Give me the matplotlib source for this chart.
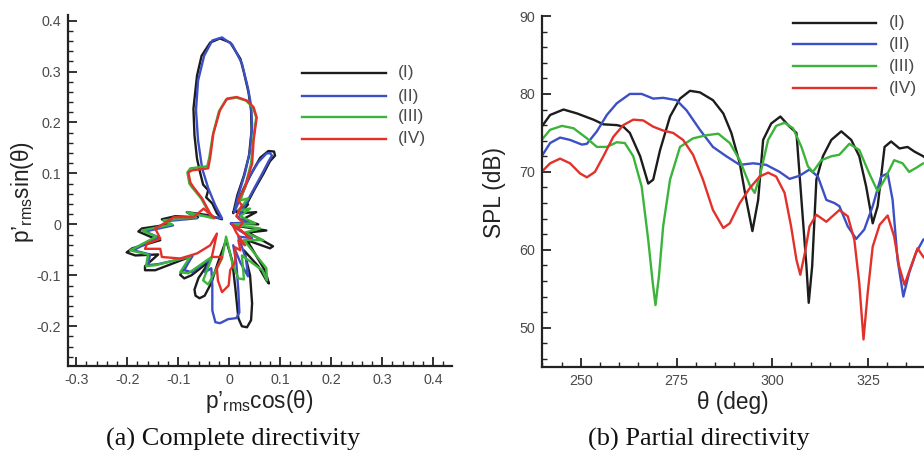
import matplotlib
matplotlib.use('Agg')
import matplotlib.pyplot as plt
from matplotlib.lines import Line2D
from matplotlib.ticker import MultipleLocator, FuncFormatter

plt.rcParams['font.family'] = ['Liberation Sans', 'DejaVu Sans']
plt.rcParams['axes.unicode_minus'] = False
plt.rcParams['mathtext.fontset'] = 'custom'
plt.rcParams['mathtext.rm'] = 'Liberation Sans'
plt.rcParams['mathtext.it'] = 'Liberation Sans:italic'

series_labels = ['(I)', '(II)', '(III)', '(IV)']
series_colors = ['#1c1c1c', '#3c4fc4', '#3cb43c', '#e2312a']

# ---------------- (a) complete directivity: p'rms*cos(theta), p'rms*sin(theta)
dir_x_I = [0.004, 0.057, 0.027, 0.053, 0.022, 0.037, 0.014, 0.035, 0.051, 0.067, 0.080, 0.090, 0.088, 0.077,
           0.061, 0.047, 0.031, 0.018, 0.008, 0.016, 0.029, 0.039, 0.044, 0.043, 0.038, 0.029, 0.022, 0.002,
           -0.018, -0.037, -0.054, -0.063, -0.070, -0.068, -0.063, -0.057, -0.051, -0.041, -0.045, -0.033,
           -0.024, -0.014, -0.041, -0.083, -0.061, -0.106, -0.132, -0.116, -0.171, -0.178, -0.155, -0.135,
           -0.190, -0.201, -0.184, -0.139, -0.165, -0.165, -0.145, -0.072, -0.088, -0.096, -0.088, -0.074,
           -0.037, -0.060, -0.068, -0.066, -0.058, -0.048, -0.035, -0.022, -0.006, 0.006, 0.012, 0.018, 0.025,
           0.035, 0.043, 0.045, 0.041, 0.029, 0.057, 0.073, 0.078, 0.071, 0.035, 0.080, 0.086, 0.037, 0.073,
           0.022, 0.004]
dir_y_I = [0.002, 0.000, 0.010, 0.024, 0.022, 0.039, 0.024, 0.041, 0.071, 0.099, 0.124, 0.135, 0.143, 0.144,
           0.131, 0.106, 0.076, 0.047, 0.022, 0.057, 0.096, 0.135, 0.184, 0.224, 0.259, 0.298, 0.325, 0.357,
           0.365, 0.357, 0.331, 0.292, 0.227, 0.175, 0.129, 0.102, 0.078, 0.067, 0.053, 0.041,
           0.022, 0.010, 0.018, 0.024, 0.014, 0.016, 0.010, 0.000, -0.008, -0.014, -0.024, -0.031,
           -0.047, -0.055, -0.061, -0.059, -0.082, -0.090, -0.090, -0.062, -0.085, -0.099, -0.106, -0.100,
           -0.071, -0.105, -0.128, -0.140, -0.145, -0.140, -0.115, -0.075, -0.031, -0.071, -0.124, -0.184,
           -0.200, -0.202, -0.188, -0.155, -0.100, -0.051, -0.082, -0.110, -0.116, -0.092, -0.031, -0.047,
           -0.043, -0.016, -0.012, -0.004, 0.002]

dir_x_II = [0.004, 0.041, 0.018, 0.033, 0.065, 0.078, 0.084, 0.080, 0.073, 0.057, 0.041, 0.022, 0.010,
            0.018, 0.031, 0.041, 0.045, 0.043, 0.037, 0.025, 0.006, -0.014, -0.033, -0.049, -0.061, -0.065,
            -0.061, -0.053, -0.041, -0.027, -0.014, -0.057, -0.080, -0.063, -0.127, -0.110, -0.165, -0.139,
            -0.188, -0.155, -0.159, -0.139, -0.073, -0.088, -0.073, -0.037, -0.047, -0.035, -0.033, -0.033,
            -0.027, -0.018, -0.002, 0.014, 0.020, 0.018, 0.014, 0.008, 0.022, 0.037, 0.033, 0.018, 0.045,
            0.014, 0.004]
dir_y_II = [0.002, 0.004, 0.012, 0.041, 0.100, 0.125, 0.135, 0.140, 0.139, 0.122, 0.096, 0.051, 0.024,
            0.057, 0.100, 0.145, 0.194, 0.233, 0.267, 0.316, 0.353, 0.367, 0.361, 0.331, 0.282, 0.224,
            0.165, 0.110, 0.071, 0.037, 0.012, 0.018, 0.022, 0.012, 0.006, -0.002, -0.014, -0.025,
            -0.051, -0.059, -0.080, -0.078, -0.063, -0.090, -0.094, -0.067, -0.094, -0.086, -0.120, -0.169,
            -0.192, -0.194, -0.186, -0.184, -0.173, -0.129, -0.075, -0.041, -0.075, -0.102, -0.067, -0.024, -0.027,
            -0.008, 0.002]

dir_x_III = [0.006, 0.051, 0.022, 0.041, 0.018, 0.037, 0.022, 0.031, 0.043, 0.047, 0.053, 0.047, 0.033,
             0.014, -0.006, -0.020, -0.032, -0.039, -0.043, -0.076, -0.082, -0.078, -0.073, -0.055, -0.039,
             -0.031, -0.082, -0.065, -0.129, -0.112, -0.171, -0.143, -0.194, -0.159, -0.163, -0.143, -0.076,
             -0.096, -0.080, -0.033, -0.051, -0.041, -0.014, -0.006, 0.006, 0.018, 0.029, 0.025, 0.065, 0.074,
             0.073, 0.029, 0.067, 0.031, 0.061, 0.018, 0.006]
dir_y_III = [0.000, 0.002, 0.016, 0.031, 0.027, 0.051, 0.047, 0.073, 0.120, 0.165, 0.210, 0.229, 0.243,
             0.249, 0.245, 0.222, 0.176, 0.131, 0.114, 0.110, 0.102, 0.080, 0.073, 0.051, 0.022,
             0.012, 0.024, 0.014, 0.008, 0.000, -0.012, -0.024, -0.051, -0.059, -0.082, -0.080, -0.063,
             -0.094, -0.096, -0.063, -0.110, -0.118, -0.067, -0.024, -0.075, -0.106, -0.108, -0.061, -0.090, -0.110,
             -0.086, -0.031, -0.031, -0.016, -0.008, -0.002, 0.000]

dir_x_IV = [0.006, 0.031, 0.041, 0.018, 0.027, 0.014, 0.025, 0.018, 0.031, 0.045, 0.048, 0.054, 0.048,
            0.035, 0.015, -0.004, -0.018, -0.031, -0.037, -0.041, -0.073, -0.080, -0.076, -0.070, -0.053,
            -0.037, -0.029, -0.050, -0.070, -0.109, -0.129, -0.145, -0.135, -0.161, -0.165, -0.135, -0.132,
            -0.096, -0.063, -0.037, -0.024, -0.034, -0.014, -0.024, -0.022, -0.014, -0.001, 0.002, 0.012,
            0.012, 0.022, 0.018, 0.031, 0.014, 0.006]
dir_y_IV = [0.000, -0.018, -0.027, -0.008, 0.004, 0.016, 0.037, 0.047, 0.073, 0.119, 0.165, 0.210, 0.230,
            0.243, 0.250, 0.247, 0.224, 0.178, 0.132, 0.110, 0.106, 0.102, 0.082, 0.073, 0.051,
            0.021, 0.012, 0.031, 0.014, 0.014, 0.001, -0.008, -0.028, -0.038, -0.048, -0.048, -0.064,
            -0.067, -0.057, -0.041, -0.018, -0.064, -0.064, -0.087, -0.110, -0.133, -0.120, -0.090, -0.074,
            -0.045, -0.051, -0.031, -0.041, -0.016, 0.000]

# ---------------- (b) partial directivity: SPL vs theta
theta_I = [239.8, 242, 245.5, 249, 253.3, 255.9, 259.4, 261.1, 262.8, 265.5, 267.6, 268.9, 270.7, 273.3,
           275.9, 278.5, 281.1, 284.5, 287.2, 289.3, 291.5, 293.2, 294.8, 296.3, 297.6, 299.7, 302.1, 304.5,
           306.3, 307.6, 308.9, 309.5, 310.4, 311.5, 313.2, 315.4, 318.0, 320.6, 322.7, 324.5, 326.2, 327.5,
           329.3, 331.0, 333.2, 335.3, 337.1, 339.4, 342.0]
spl_I = [75.8, 77.3, 78.0, 77.5, 76.7, 76.1, 76.0, 75.8, 75.0, 72.0, 68.5, 69.0, 72.8, 77.1,
         79.4, 80.4, 80.2, 79.2, 77.5, 75.0, 71.1, 66.4, 62.4, 66.4, 74.1, 76.2, 77.1, 75.8,
         75.0, 66.4, 57.9, 53.2, 57.9, 69.0, 72.0, 74.1, 75.2, 74.1, 72.0, 68.1, 63.4, 65.6,
         73.2, 73.9, 73.0, 73.2, 72.6, 72.0, 71.0]

theta_II = [239.8, 242, 244.6, 247.2, 250.3, 251.6, 254.2, 256.8, 259.4, 262.8, 265.9, 268.9, 271.5, 275.0,
            277.6, 281.1, 284.5, 288.0, 291.5, 295.0, 298.4, 301.9, 304.5, 307.1, 309.7, 311.9, 314.1, 316.2,
            317.5, 319.7, 321.9, 324.0, 326.2, 328.4, 330.1, 331.4, 332.7, 334.2, 335.7, 337.5, 339.4, 342.0]
spl_II = [72.0, 73.7, 74.4, 74.1, 73.5, 73.6, 75.2, 77.3, 78.8, 80.0, 80.0, 79.4, 79.5, 79.2,
          77.9, 75.4, 73.2, 72.0, 70.9, 71.1, 70.9, 70.0, 69.1, 69.5, 70.3, 69.4, 66.4, 66.0,
          65.6, 63.0, 61.4, 62.6, 65.6, 69.4, 69.8, 66.4, 58.7, 54.0, 57.0, 59.6, 61.3, 62.0]

theta_III = [239.8, 242, 245.1, 248.1, 251.6, 254.2, 256.8, 259.4, 261.5, 263.7, 265.9, 267.6, 268.8, 269.5,
             270.4, 271.5, 273.3, 275.9, 279.3, 282.8, 285.9, 288.9, 291.5, 294.1, 295.4, 296.7, 298.9, 301.0,
             303.2, 305.4, 307.6, 309.3, 310.6, 312.8, 315.4, 317.5, 320.1, 322.7, 325.3, 327.5, 329.3, 331.8,
             334.0, 335.7, 337.5, 339.4, 342.0]
spl_III = [74.1, 75.4, 75.9, 75.6, 74.3, 73.2, 73.2, 73.8, 73.7, 72.0, 68.1, 61.3, 55.7, 52.9,
           56.6, 63.0, 69.0, 73.2, 74.3, 74.7, 74.9, 73.7, 71.5, 68.3, 67.3, 69.4, 74.1, 75.9,
           76.3, 75.6, 73.2, 70.7, 70.0, 71.5, 72.0, 72.2, 73.6, 72.8, 69.8, 67.5, 69.0, 71.5,
           71.1, 70.0, 70.5, 71.1, 71.0]

theta_IV = [239.8, 242, 244.6, 247.2, 249.8, 251.6, 253.7, 255.9, 258.5, 261.1, 263.7, 266.3, 268.9, 271.5,
            274.1, 276.7, 279.3, 281.9, 284.5, 287.2, 288.9, 291.5, 294.1, 296.7, 298.9, 301.0, 303.2, 304.9,
            306.3, 307.3, 308.5, 309.7, 311.5, 314.1, 317.5, 319.7, 321.4, 322.7, 323.8, 324.9, 326.2, 328.0,
            330.1, 331.8, 333.1, 334.5, 336.2, 337.9, 339.4, 342.0]
spl_IV = [70.0, 71.1, 71.7, 71.1, 69.8, 69.3, 70.0, 72.0, 74.5, 76.0, 76.7, 76.6, 75.8, 75.3,
          75.0, 74.1, 72.2, 69.0, 65.1, 62.8, 63.4, 66.0, 67.9, 69.4, 69.9, 69.4, 67.3, 63.0,
          58.7, 56.8, 59.6, 63.0, 64.5, 63.6, 65.1, 64.3, 61.3, 55.7, 48.5, 54.5, 60.4, 63.2,
          64.4, 61.7, 57.9, 55.5, 57.9, 60.2, 59.1, 58.0]

dir_x = [dir_x_I, dir_x_II, dir_x_III, dir_x_IV]
dir_y = [dir_y_I, dir_y_II, dir_y_III, dir_y_IV]
thetas = [theta_I, theta_II, theta_III, theta_IV]
spls = [spl_I, spl_II, spl_III, spl_IV]

W, H = 924, 450
fig = plt.figure(figsize=(W / 100, H / 100), dpi=100)

tick_col = '#4a4a4a'
lw = 1.7


def style_axes(ax):
    for s in ('top', 'right'):
        ax.spines[s].set_visible(False)
    for s in ('left', 'bottom'):
        ax.spines[s].set_linewidth(1.6)
        ax.spines[s].set_color('#222222')
    ax.tick_params(which='major', direction='in', length=6.5, width=1.3, color='#222222',
                   labelsize=10.3, labelcolor=tick_col, pad=5)
    ax.tick_params(which='minor', direction='in', length=3.5, width=1.0, color='#222222')


def fmt(v, pos):
    return '%g' % round(v, 6)


# axes (a)
axA = fig.add_axes([68 / W, 1 - 366 / H, (452 - 68) / W, (366 - 15) / H])
for xs, ys, c in zip(dir_x, dir_y, series_colors):
    axA.plot(xs, ys, color=c, lw=lw, solid_joinstyle='round')
axA.set_xlim(-0.316, 0.437)
axA.set_ylim(-0.278, 0.411)
axA.xaxis.set_major_locator(MultipleLocator(0.1))
axA.xaxis.set_minor_locator(MultipleLocator(0.02))
axA.yaxis.set_major_locator(MultipleLocator(0.1))
axA.yaxis.set_minor_locator(MultipleLocator(0.02))
axA.xaxis.set_major_formatter(FuncFormatter(fmt))
axA.yaxis.set_major_formatter(FuncFormatter(fmt))
style_axes(axA)

# axes (b)
axB = fig.add_axes([541.7 / W, 1 - 366.7 / H, 105 * 3.831 / W, (366.7 - 16) / H])
for th, sp, c in zip(thetas, spls, series_colors):
    axB.plot(th, sp, color=c, lw=lw, solid_joinstyle='round')
axB.set_xlim(239.8, 344.8)
axB.set_ylim(45, 90)
axB.xaxis.set_major_locator(MultipleLocator(25))
axB.xaxis.set_minor_locator(MultipleLocator(5))
axB.yaxis.set_major_locator(MultipleLocator(10))
axB.yaxis.set_minor_locator(MultipleLocator(2))
style_axes(axB)


# legends (drawn manually to match the reference layout)
def legend(x0, x1, xt, ys):
    for lab, c, y in zip(series_labels, series_colors, ys):
        fig.add_artist(Line2D([x0 / W, x1 / W], [1 - y / H, 1 - y / H], color=c, lw=lw,
                              transform=fig.transFigure))
        fig.text(xt / W, 1 - y / H, lab, fontsize=12.5, color=tick_col, va='center', ha='left')


legend(302, 386, 398, [73, 96, 117, 139])
legend(793, 876, 889, [22.7, 44.3, 66.3, 88.3])

# axis labels
lab_fs = 16.3
fig.text(23 / W, 1 - 192 / H, r"$\mathregular{p’_{rms}sin(θ)}$", rotation=90, fontsize=lab_fs,
         ha='center', va='center', color='#222222')
fig.text(259 / W, 1 - 408 / H, r"$\mathregular{p’_{rms}cos(θ)}$", fontsize=lab_fs,
         ha='center', va='baseline', color='#222222')
fig.text(494 / W, 1 - 192 / H, 'SPL (dB)', rotation=90, fontsize=lab_fs, ha='center', va='center',
         color='#222222')
fig.text(733 / W, 1 - 402 / H, 'θ (deg)', fontsize=lab_fs, ha='center', va='center', color='#222222')

# captions
fig.text(233 / W, 1 - 446 / H, '(a) Complete directivity', fontsize=19, family='Liberation Serif',
         ha='center', va='baseline', color='#111111')
fig.text(699 / W, 1 - 446 / H, '(b) Partial directivity', fontsize=19, family='Liberation Serif',
         ha='center', va='baseline', color='#111111')

fig.savefig('out.png', dpi=100)
